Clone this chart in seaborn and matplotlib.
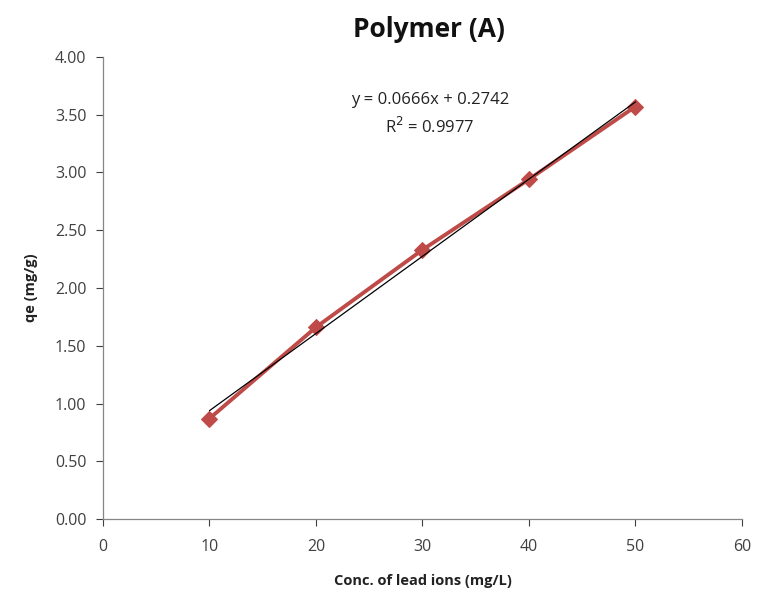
import matplotlib
matplotlib.use("Agg")
import matplotlib.pyplot as plt
import seaborn as sns
import pandas as pd
import numpy as np

conc = [10, 20, 30, 40, 50]
qe = [0.87, 1.66, 2.33, 2.94, 3.57]
title = "Polymer (A)"
xlabel = "Conc. of lead ions (mg/L)"
ylabel = "qe (mg/g)"
x_ticks = [0, 10, 20, 30, 40, 50, 60]
y_ticks = [0.0, 0.5, 1.0, 1.5, 2.0, 2.5, 3.0, 3.5, 4.0]
eq_text = "y = 0.0666x + 0.2742\nR$^2$ = 0.9977"

sns.set_style("white")
plt.rcParams["font.family"] = ["Open Sans", "DejaVu Sans"]

df = pd.DataFrame({"conc": conc, "qe": qe})

fig = plt.figure(figsize=(7.6, 5.98), dpi=100)
ax = fig.add_axes([0.1355, 0.132, 0.9763 - 0.1355, 0.905 - 0.132])

sns.lineplot(data=df, x="conc", y="qe", ax=ax, color="#BF4B48", linewidth=2.8,
             marker="D", markersize=8.5, markeredgecolor="#BF4B48", zorder=2)
sns.regplot(data=df, x="conc", y="qe", ax=ax, scatter=False, ci=None, truncate=True,
            line_kws={"color": "black", "linewidth": 0.9, "zorder": 3})

ax.set_xlim(0, 60)
ax.set_ylim(0, 4)
ax.set_xticks(x_ticks)
ax.set_yticks(y_ticks)
ax.set_yticklabels([f"{v:.2f}" for v in y_ticks])
ax.tick_params(axis="both", labelsize=11.5, colors="#404040", length=5, width=0.8,
               direction="out", bottom=True, left=True, pad=7)
ax.tick_params(axis="x", pad=9)
for s in ["top", "right"]:
    ax.spines[s].set_visible(False)
for s in ["left", "bottom"]:
    ax.spines[s].set_color("#868686")
    ax.spines[s].set_linewidth(0.9)

ax.set_xlabel(xlabel, fontsize=10.5, fontweight="bold", labelpad=14, color="#222222")
ax.set_ylabel(ylabel, fontsize=10.5, fontweight="bold", labelpad=12, color="#222222")
ax.set_title(title, fontsize=19, fontweight="bold", pad=14, x=0.51, color="#111111")

ax.text(30.7, 3.50, eq_text, ha="center", va="center", fontsize=12,
        color="#222222", linespacing=1.55)

fig.savefig("out.png", dpi=100)
